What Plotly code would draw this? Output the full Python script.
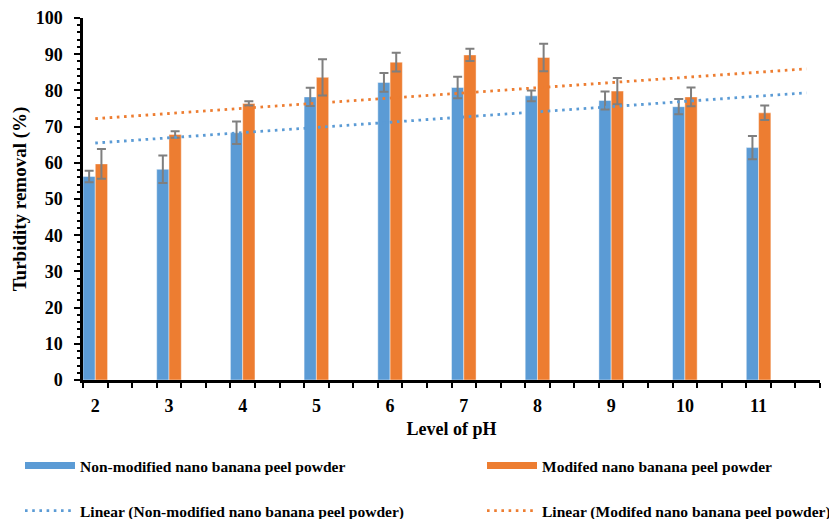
import numpy as np
import plotly.graph_objects as go

ph = [2, 3, 4, 5, 6, 7, 8, 9, 10, 11]
non_modified = [56.2, 58.2, 68.3, 78.2, 82.2, 80.8, 78.5, 77.2, 75.5, 64.2]
non_modified_err = [1.6, 3.8, 3.1, 2.5, 2.6, 3.0, 1.5, 2.5, 2.1, 3.2]
modified = [59.7, 67.8, 76.4, 83.6, 87.8, 89.8, 89.1, 79.8, 78.2, 73.8]
modified_err = [4.1, 0.9, 0.6, 5.0, 2.6, 1.7, 3.8, 3.6, 2.6, 2.0]
name_non = "Non-modified nano banana peel powder"
name_mod = "Modifed nano banana peel powder"

BLUE = "#5B9BD5"
ORANGE = "#ED7D31"
GRAY = "#7F7F7F"
FONT = "Liberation Serif"

fig = go.Figure()
bw = 1 / 6
for vals, errs, col, off in [(non_modified, non_modified_err, BLUE, -bw),
                             (modified, modified_err, ORANGE, 0)]:
    fig.add_trace(go.Bar(
        x=ph, y=vals, width=bw, offset=off,
        marker=dict(color=col, line=dict(color="rgba(255,255,255,0.55)", width=0.8)),
        error_y=dict(type="data", array=errs, visible=True, color=GRAY,
                     thickness=2, width=4.5),
        showlegend=False,
    ))

# linear trendlines (least squares on category index)
idx = np.arange(1, len(ph) + 1)
x0, x1 = ph[0], ph[-1] + 0.65
for vals, col, nm, lg in [(non_modified, BLUE, name_non, "legend3"),
                          (modified, ORANGE, name_mod, "legend4")]:
    m, b = np.polyfit(idx, vals, 1)
    xs = np.array([x0, x1])
    ys = m * (xs - ph[0] + 1) + b
    fig.add_trace(go.Scatter(
        x=xs, y=ys, mode="lines",
        line=dict(color=col, width=2.8, dash="2.6px,4.6px"),
        name=f"Linear ({nm})", legend=lg,
    ))

# legend entries for the bars
for col, nm, lg in [(BLUE, name_non, "legend"), (ORANGE, name_mod, "legend2")]:
    fig.add_trace(go.Scatter(x=[None], y=[None], mode="lines",
                             line=dict(color=col, width=7), name=nm, legend=lg))

# page has an 8px body margin: figure coords = page coords - 8
OFF = 8
W, H = 837 - OFF, 519 - OFF
L, R, T, B = 83 - OFF, 17, 18 - OFF, 139
pw, ph_ = W - L - R, H - T - B

def px2paper(xp, yp):
    xp, yp = xp - OFF, yp - OFF
    return (xp - L) / pw, (H - B - yp) / ph_

leg_common = dict(font=dict(family=FONT, size=15.5, color="black", weight="bold"),
                  bgcolor="rgba(0,0,0,0)", itemwidth=50,
                  xanchor="left", yanchor="middle", borderwidth=0)
pos = {"legend": (20, 466), "legend2": (482, 466),
       "legend3": (20, 511), "legend4": (482, 511)}
legends = {}
for k, (xp, yp) in pos.items():
    xx, yy = px2paper(xp, yp)
    legends[k] = dict(leg_common, x=xx, y=yy)

minor_x = [11 / 6 + k / 3 for k in range(31)]
bold18 = dict(family=FONT, size=18, color="black", weight="bold")

fig.update_layout(
    width=W, height=H,
    margin=dict(l=L, r=R, t=T, b=B, autoexpand=False),
    paper_bgcolor="white", plot_bgcolor="white",
    font=dict(family=FONT, color="black"),
    barmode="overlay",
    **legends,
    xaxis=dict(
        range=[11 / 6, 71 / 6], tickmode="array", tickvals=ph,
        ticktext=[str(p) for p in ph], ticks="", showgrid=False,
        showline=True, linecolor="black", linewidth=2.5,
        tickfont=bold18,
        ticklabelstandoff=8,
        minor=dict(tickmode="array", tickvals=minor_x, ticks="outside",
                   ticklen=5, tickwidth=2, tickcolor="black", showgrid=False),
        title=dict(text="Level of pH", font=bold18, standoff=8),
        zeroline=False,
    ),
    yaxis=dict(
        range=[0, 100], tickmode="linear", tick0=0, dtick=10,
        ticks="outside", ticklen=6, tickwidth=2, tickcolor="black",
        showgrid=False, showline=True, linecolor="black", linewidth=2.5,
        tickfont=bold18,
        ticklabelstandoff=8,
        minor=dict(dtick=2, ticks="outside", ticklen=3.5, tickwidth=2,
                   tickcolor="black", showgrid=False),
        title=dict(text="Turbidity removal (%)",
                   font=dict(family=FONT, size=19, color="black", weight="bold"),
                   standoff=5),
        zeroline=False,
    ),
)

fig.write_html("out.html")
